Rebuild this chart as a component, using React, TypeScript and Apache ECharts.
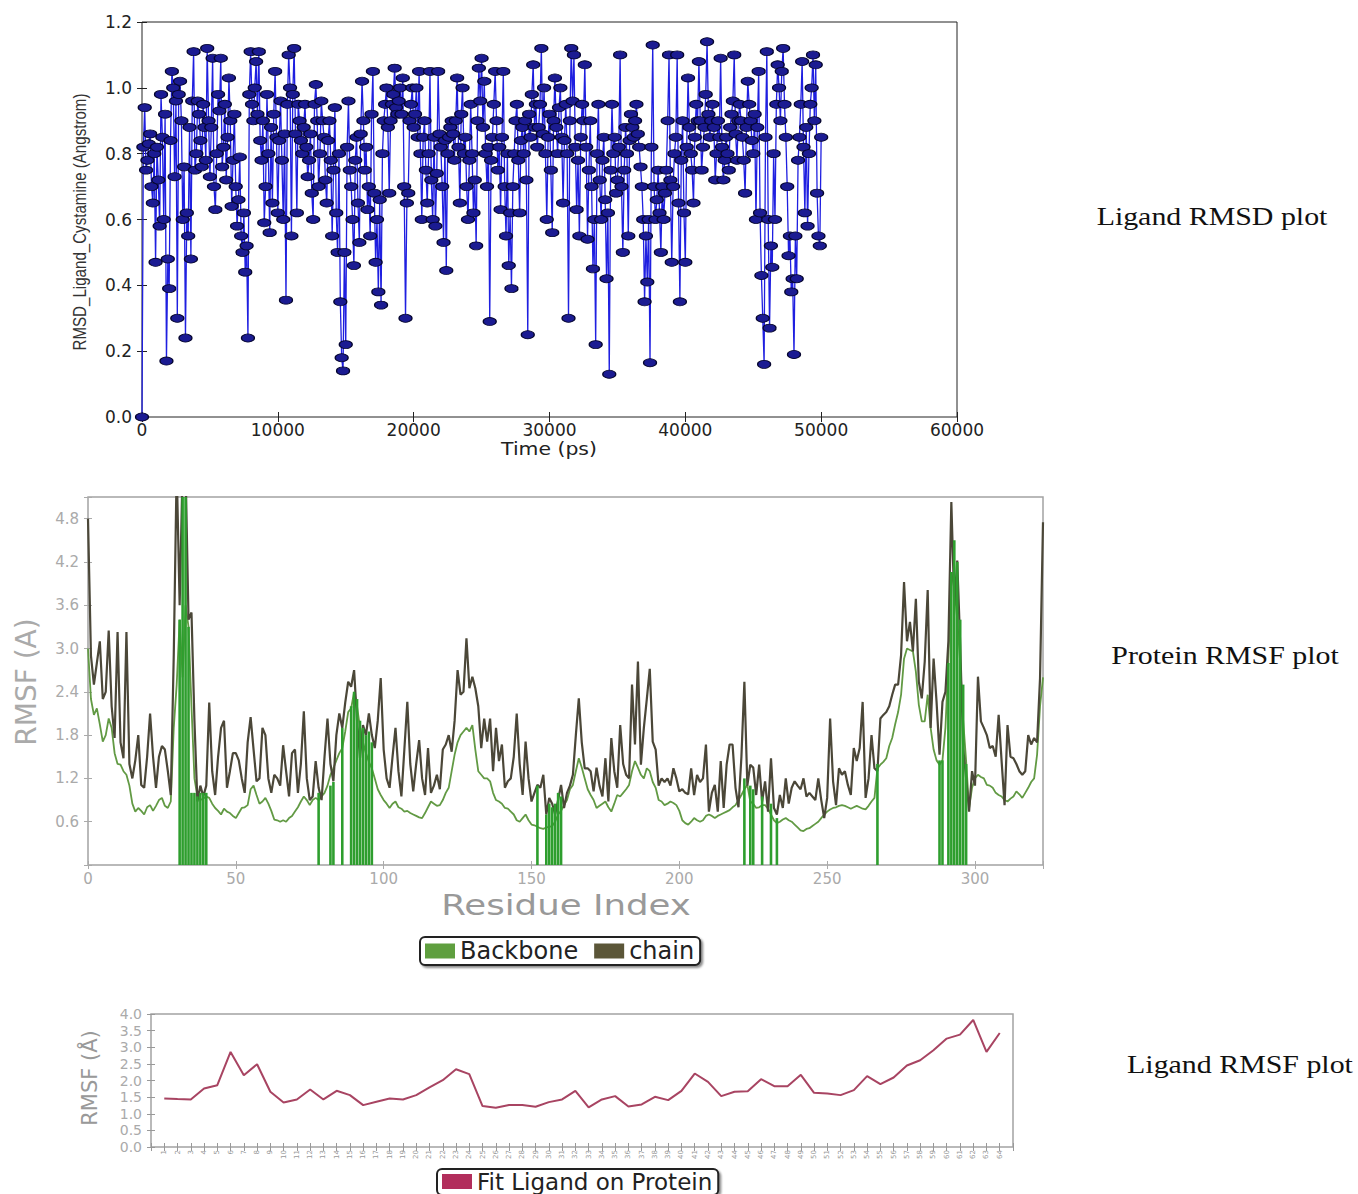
import React, { useEffect, useRef } from "react";
import * as echarts from "echarts";

// ---------- Ligand RMSD (top) ----------
const RMSD_STEP_PS = 100;
const RMSD_VALUES = [
  0.0,
  0.82, 0.94, 0.75, 0.78, 0.83, 0.86, 0.7, 0.65, 0.8, 0.47,
  0.82, 0.72, 0.58, 0.98, 0.85, 0.6, 0.92, 0.17, 0.48, 0.39,
  0.84, 1.05, 1.0, 0.73, 0.96, 0.3, 0.98, 1.02, 0.9, 0.6,
  0.76, 0.24, 0.62, 0.55, 0.88, 0.48, 0.96, 1.11, 0.75, 0.8,
  0.96, 0.92, 0.84, 0.76, 0.95, 0.88, 0.78, 1.12, 0.9, 0.73,
  0.88, 1.09, 0.7, 0.63, 0.8, 0.98, 0.93, 1.09, 0.76, 0.82,
  0.95, 0.72, 0.85, 1.03, 0.9, 0.64, 0.78, 0.92, 0.7, 0.58,
  0.66, 0.79, 0.55, 0.5, 0.62, 0.44, 0.52, 0.24, 0.98, 1.11,
  0.95, 0.9, 1.0, 1.08, 0.92, 1.11, 0.84, 0.78, 0.9, 0.59,
  0.7, 0.98, 0.8, 0.56, 0.88, 0.65, 0.92, 1.05, 0.85, 0.62,
  0.84, 0.96, 0.78, 0.6, 0.86, 0.355, 0.95, 1.1, 1.0, 0.55,
  0.98, 1.12, 0.86, 0.62, 0.95, 0.9, 0.84, 0.8, 0.88, 0.95,
  0.82, 0.73, 0.78, 0.86, 0.68, 0.6, 0.95, 1.01, 0.9, 0.7,
  0.8, 0.96, 0.9, 0.85, 0.72, 0.65, 0.84, 0.9, 0.78, 0.55,
  0.75, 0.94, 0.62, 0.5, 0.8, 0.35, 0.18, 0.14, 0.5, 0.22,
  0.82, 0.96, 0.75, 0.7, 0.6, 0.46, 0.78, 0.85, 0.65, 0.53,
  0.86, 1.02, 0.9, 0.75, 0.82, 0.63, 0.7, 0.55, 0.92, 1.05,
  0.68, 0.47, 0.6, 0.38, 0.66, 0.34, 0.8, 0.9, 0.95, 1.0,
  0.88, 0.68, 0.9, 0.95, 0.98, 1.06, 0.94, 0.92, 0.96, 1.0,
  0.92, 1.03, 0.7, 0.3, 0.65, 0.68, 0.9, 0.95, 1.0, 0.88,
  0.92, 1.0, 0.85, 1.05, 0.8, 0.6, 0.85, 0.9, 0.75, 0.65,
  0.8, 1.05, 0.72, 0.6, 0.85, 0.58, 0.74, 1.05, 0.86, 0.82,
  0.7, 0.53, 0.84, 0.445, 0.8, 0.85, 0.88, 0.9, 0.86, 0.78,
  0.9, 1.03, 0.82, 0.65, 0.92, 1.0, 0.8, 0.85, 0.7, 0.6,
  0.78, 0.95, 0.8, 0.62, 0.72, 0.52, 0.9, 1.06, 0.96, 1.09,
  0.88, 1.02, 0.8, 0.7, 0.82, 0.29, 0.78, 0.85, 0.95, 1.05,
  0.9, 0.75, 0.82, 0.63, 0.85, 1.05, 0.7, 0.55, 0.8, 0.46,
  0.62, 0.39, 0.7, 0.8, 0.9, 0.95, 0.78, 0.62, 0.84, 0.88,
  0.8, 0.9, 0.72, 0.25, 0.92, 0.85, 0.98, 1.07, 0.88, 0.95,
  0.82, 0.88, 0.95, 1.12, 0.86, 1.0, 0.8, 0.6, 0.85, 0.92,
  0.75, 0.56, 0.9, 1.03, 0.88, 0.8, 0.94, 1.0, 0.85, 0.65,
  0.84, 0.95, 0.8, 0.3, 0.9, 1.12, 0.96, 1.1, 0.82, 0.63,
  0.78, 0.55, 0.85, 0.95, 0.9, 1.07, 0.82, 0.54, 0.75, 0.9,
  0.7, 0.45, 0.6, 0.22, 0.8, 0.95, 0.72, 0.6, 0.78, 0.85,
  0.66, 0.42, 0.62, 0.13, 0.75, 0.95, 0.8, 0.85, 0.68, 0.72,
  0.82, 1.1, 0.7, 0.5, 0.75, 0.88, 0.8, 0.55, 0.84, 0.92,
  0.88, 0.85, 0.9, 0.95, 0.86, 0.82, 0.76, 0.7, 0.6, 0.35,
  0.55, 0.41, 0.6, 0.165, 0.82, 1.13, 0.7, 0.6, 0.66, 0.75,
  0.62, 0.5, 0.7, 0.6, 0.68, 0.75, 0.9, 1.1, 0.72, 0.47,
  0.7, 0.8, 0.85, 1.1, 0.65, 0.35, 0.78, 0.9, 0.62, 0.47,
  0.82, 1.03, 0.88, 0.8, 0.75, 0.65, 0.85, 0.95, 0.9, 1.08,
  0.9, 0.75, 0.82, 0.88, 0.98, 1.14, 0.92, 0.85, 0.9, 0.95,
  0.88, 0.72, 0.8, 0.9, 0.85, 1.09, 0.82, 0.72, 0.78, 0.85,
  0.8, 0.75, 0.88, 0.92, 0.96, 1.1, 0.86, 0.78, 0.9, 0.95,
  0.9, 0.85, 0.78, 0.68, 0.88, 1.02, 0.95, 0.9, 0.84, 0.8,
  0.92, 0.6, 0.88, 1.05, 0.62, 0.43, 0.3, 0.16, 0.85, 1.11,
  0.6, 0.27, 0.52, 0.455, 0.8, 0.6, 0.95, 1.07, 1.0, 0.9,
  1.05, 1.12, 0.95, 0.85, 0.7, 0.49, 0.55, 0.38, 0.42, 0.19,
  0.55, 0.42, 0.78, 0.85, 0.95, 1.08, 0.82, 0.62, 0.88, 0.58,
  0.8, 0.95, 1.0, 1.1, 0.9, 1.07, 0.68, 0.55, 0.52, 0.85,
];

// ---------- Protein RMSF (middle), residue index 0..323 ----------
const CHAIN_RMSF = [
  4.8, 2.9, 2.5, 2.8, 3.1, 2.3, 2.4, 3.25, 2.2, 1.76,
  3.23, 1.7, 1.48, 3.23, 1.4, 1.2, 1.45, 1.8, 1.11, 1.07,
  1.5, 2.1, 1.5, 1.07, 1.5, 1.65, 1.6, 1.3, 0.97, 2.9,
  5.5, 3.6, 5.5, 5.5, 3.4, 3.5, 2.0, 0.88, 1.1, 0.95,
  1.1, 2.25, 1.3, 0.97, 1.5, 1.9, 2.0, 1.07, 1.3, 1.55,
  1.55, 1.45, 1.2, 1.0, 1.7, 2.05, 1.6, 1.16, 1.2, 1.9,
  1.8, 1.2, 1.0, 1.25, 1.2, 1.1, 1.66, 1.3, 0.95, 1.55,
  1.6, 1.0, 1.4, 2.13, 1.2, 0.9, 0.95, 1.44, 1.07, 0.9,
  1.5, 2.03, 1.4, 1.16, 1.8, 2.1, 1.9, 2.25, 2.54, 2.47,
  2.7, 2.0, 1.48, 1.94, 1.8, 2.1, 1.8, 1.62, 2.0, 2.59,
  1.6, 1.2, 1.07, 1.5, 1.9, 1.3, 0.95, 1.6, 2.26, 1.4,
  1.02, 1.4, 1.73, 1.2, 0.97, 1.62, 1.0, 1.1, 1.25, 1.05,
  1.6, 1.67, 1.8, 1.57, 2.0, 2.7, 2.36, 2.4, 3.14, 2.45,
  2.61, 2.45, 2.2, 1.62, 2.03, 1.71, 2.03, 1.3, 1.9, 1.44,
  1.67, 1.07, 1.16, 1.2, 1.5, 2.1, 1.4, 0.97, 1.71, 1.2,
  0.88, 1.0, 1.11, 1.07, 1.25, 0.7, 0.93, 0.85, 0.7, 0.9,
  1.11, 0.79, 1.0, 1.1, 1.25, 1.8, 2.31, 1.7, 1.34, 1.34,
  1.3, 1.02, 1.35, 1.1, 0.95, 1.48, 0.88, 1.76, 1.3, 1.07,
  1.94, 1.4, 1.25, 1.2, 2.5, 1.67, 2.82, 1.39, 1.9, 2.3,
  2.72, 1.71, 1.6, 1.1, 1.2, 1.15, 1.2, 1.1, 1.34, 1.2,
  1.02, 1.05, 1.0, 0.98, 1.34, 0.97, 1.25, 1.15, 1.2, 1.67,
  0.74, 1.0, 1.11, 0.74, 1.44, 0.79, 1.39, 1.67, 1.67, 1.07,
  0.8, 1.5, 2.54, 1.1, 1.39, 1.35, 0.97, 1.39, 0.88, 1.16,
  0.74, 1.48, 0.79, 0.7, 0.97, 0.79, 1.2, 0.85, 1.07, 1.16,
  1.1, 1.05, 1.2, 0.95, 1.0, 0.95, 0.9, 1.2, 0.9, 0.65,
  0.93, 2.03, 1.16, 0.83, 1.34, 1.25, 1.3, 1.11, 0.97, 1.62,
  1.44, 1.62, 2.26, 0.93, 1.2, 1.8, 1.34, 1.3, 2.03, 2.08,
  2.12, 2.2, 2.36, 2.5, 2.5, 2.91, 3.92, 3.1, 3.37, 2.96,
  3.69, 2.54, 2.31, 2.82, 3.81, 1.9, 2.86, 2.26, 1.53, 2.26,
  2.4, 3.1, 5.03, 3.6, 4.22, 3.05, 1.62, 1.2, 0.74, 1.3,
  1.1, 2.61, 1.99, 1.9, 1.8, 1.62, 1.65, 1.5, 2.08, 1.44,
  0.83, 1.94, 1.5, 1.48, 1.4, 1.3, 1.25, 1.3, 1.8, 1.67,
  1.76, 1.7, 2.59, 4.75,
];

const BACKBONE_RMSF = [
  3.0, 2.3, 2.08, 2.17, 1.95, 1.71, 1.8, 2.03, 1.9, 1.55,
  1.4, 1.39, 1.3, 1.25, 1.1, 0.85, 0.74, 0.79, 0.75, 0.7,
  0.8, 0.83, 0.75, 0.82, 0.9, 0.93, 0.82, 0.79, 0.88, 1.9,
  2.5, 3.4, 2.6, 3.6, 3.3, 2.2, 1.2, 0.95, 0.9, 0.92,
  0.95, 0.93, 0.85, 0.79, 0.75, 0.7, 0.78, 0.74, 0.72, 0.68,
  0.65, 0.72, 0.79, 0.8, 0.83, 1.05, 1.1, 0.97, 0.85, 0.88,
  0.93, 0.85, 0.75, 0.63, 0.62, 0.6, 0.62, 0.6, 0.65, 0.68,
  0.74, 0.8, 0.88, 0.95, 0.9, 0.83, 0.9, 0.93, 0.9, 0.95,
  1.0, 1.1, 1.25, 1.34, 1.45, 1.55, 1.62, 1.85, 2.12, 2.17,
  2.4, 2.2, 1.9, 1.7, 1.55, 1.43, 1.34, 1.2, 1.05, 0.97,
  0.9, 0.85, 0.79, 0.85, 0.88, 0.8, 0.78, 0.74, 0.75, 0.72,
  0.7, 0.68, 0.66, 0.65, 0.72, 0.8, 0.88, 0.85, 0.82, 0.83,
  0.9, 1.0, 1.07, 1.3, 1.53, 1.7, 1.8, 1.85, 1.9, 1.85,
  1.94, 1.6, 1.3, 1.25, 1.2, 1.2, 1.16, 1.0, 0.9, 0.88,
  0.85, 0.79, 0.78, 0.74, 0.7, 0.62, 0.6, 0.65, 0.7, 0.62,
  0.56, 0.55, 0.53, 0.51, 0.5, 0.52, 0.53, 0.54, 0.6, 0.7,
  0.75, 0.83, 0.9, 1.05, 1.11, 1.3, 1.48, 1.35, 1.2, 1.05,
  0.97, 0.9, 0.79, 0.82, 0.85, 0.88, 0.8, 0.74, 0.85, 0.97,
  0.95, 1.0, 1.05, 1.11, 1.3, 1.44, 1.35, 1.25, 1.2, 1.34,
  1.3, 1.15, 1.07, 0.9, 0.88, 0.83, 0.85, 0.88, 0.86, 0.83,
  0.75, 0.62, 0.58, 0.56, 0.6, 0.65, 0.62, 0.6, 0.62, 0.68,
  0.7, 0.68, 0.65, 0.68, 0.7, 0.72, 0.74, 0.76, 0.8, 0.83,
  0.9, 0.97, 1.05, 1.11, 0.88, 0.85, 0.79, 0.8, 0.83, 0.83,
  0.78, 0.7, 0.62, 0.58, 0.6, 0.63, 0.65, 0.62, 0.6, 0.56,
  0.52, 0.48, 0.47, 0.5, 0.51, 0.54, 0.57, 0.6, 0.65, 0.7,
  0.74, 0.77, 0.79, 0.8, 0.82, 0.83, 0.82, 0.8, 0.78, 0.8,
  0.82, 0.8, 0.78, 0.77, 0.82, 0.88, 0.93, 1.34, 1.39, 1.43,
  1.48, 1.65, 1.76, 1.95, 2.12, 2.36, 2.86, 3.0, 2.98, 2.96,
  2.68, 2.22, 1.99, 1.99, 2.36, 1.9, 1.6, 1.45, 1.39, 1.45,
  1.9, 2.82, 4.06, 3.83, 3.4, 2.8, 2.0, 1.44, 0.79, 1.07,
  1.2, 1.25, 1.22, 1.2, 1.11, 1.1, 1.07, 1.0, 0.97, 0.95,
  0.9, 0.88, 0.92, 0.95, 1.02, 0.98, 0.93, 1.0, 1.07, 1.15,
  1.2, 1.53, 2.2, 2.6,
];

// residues drawn as green vertical bars, with their heights
const CONTACT_RESIDUES = [
  31, 32, 33, 34, 35, 36, 37, 38, 39, 40,
  78, 82, 83, 86, 89, 90, 91, 92, 93, 94, 95, 96,
  152, 155, 156, 157, 158, 159, 160,
  222, 224, 225, 228, 231, 233,
  267, 288, 289, 291, 292, 293, 294, 295, 296, 297,
];
const CONTACT_HEIGHTS = [
  3.4, 5.5, 5.5, 3.3, 1.0, 1.0, 0.95, 1.0, 1.0, 1.0,
  1.0, 1.1, 1.15, 1.9, 2.2, 2.4, 2.3, 2.0, 1.9, 1.8, 1.85, 1.7,
  1.1, 0.7, 0.85, 0.8, 0.85, 1.0, 0.95,
  1.2, 1.1, 1.05, 0.95, 0.85, 0.65,
  1.4, 1.45, 1.45, 2.8, 4.06, 4.5, 4.2, 3.4, 2.5, 1.4,
];

// ---------- Ligand RMSF (bottom), atoms 1..64 ----------
const LIGAND_RMSF = [
  1.46, 1.44, 1.43, 1.76, 1.86, 2.86, 2.16, 2.49, 1.66, 1.34,
  1.43, 1.73, 1.43, 1.69, 1.56, 1.26, 1.36, 1.46, 1.43, 1.56,
  1.79, 2.01, 2.34, 2.19, 1.23, 1.18, 1.26, 1.26, 1.21, 1.35,
  1.43, 1.69, 1.19, 1.43, 1.53, 1.22, 1.28, 1.51, 1.41, 1.69,
  2.21, 1.96, 1.53, 1.66, 1.68, 2.04, 1.83, 1.83, 2.17, 1.63,
  1.61, 1.56, 1.71, 2.13, 1.89, 2.09, 2.45, 2.61, 2.91, 3.26,
  3.38, 3.82, 2.86, 3.43,
];

const SANS = "'DejaVu Sans', sans-serif";
const LIB_SANS = "'Liberation Sans', sans-serif";
const SERIF = "'Liberation Serif', 'DejaVu Serif', serif";

function frameAxis(
  gridIndex: number,
  position: string,
  min: number,
  max: number,
  interval: number,
  tickColor: string,
  tickLen: number,
  label: any
) {
  return {
    gridIndex,
    type: "value",
    position,
    min,
    max,
    interval,
    axisLine: { show: false },
    axisTick: { show: true, inside: true, length: tickLen, lineStyle: { color: tickColor, width: 1 } },
    splitLine: { show: false },
    axisLabel: label ? label : { show: false },
  };
}

function buildOption() {
  const topLabel = {
    margin: 4,
    fontSize: 17,
    color: "#222",
    fontFamily: SANS,
    formatter: (v: number) => String(v),
  };
  const midXLabel = {
    margin: 6,
    fontSize: 15,
    color: "#aaa",
    fontFamily: SANS,
    formatter: (v: number) => (v % 50 === 0 ? String(v) : ""),
  };
  const botXLabel = {
    margin: 3,
    fontSize: 7,
    rotate: 90,
    color: "#999",
    fontFamily: SANS,
    formatter: (v: number) => (v >= 1 && v <= 64 ? String(v) : ""),
  };

  const xAxis = [
    frameAxis(0, "bottom", 0, 60000, 10000, "#222", 5, topLabel),
    frameAxis(0, "top", 0, 60000, 10000, "#222", 5, null),
    frameAxis(1, "bottom", 0, 323, 50, "#aaa", 4, midXLabel),
    frameAxis(1, "top", 0, 323, 50, "#aaa", 4, null),
    frameAxis(2, "bottom", 0, 65, 1, "#999", 4, botXLabel),
    frameAxis(2, "top", 0, 65, 1, "#999", 4, null),
  ];

  const yAxis = [
    frameAxis(0, "left", 0, 1.2, 0.2, "#222", 5, {
      margin: 10,
      fontSize: 17,
      color: "#222",
      fontFamily: SANS,
      formatter: (v: number) => v.toFixed(1),
    }),
    frameAxis(0, "right", 0, 1.2, 0.2, "#222", 5, null),
    frameAxis(1, "left", 0, 5.1, 0.6, "#aaa", 4, {
      margin: 9,
      fontSize: 15,
      color: "#aaa",
      fontFamily: SANS,
      formatter: (v: number) => (v > 0.01 && v < 5.0 ? v.toFixed(1) : ""),
    }),
    frameAxis(1, "right", 0, 5.1, 0.6, "#aaa", 4, null),
    frameAxis(2, "left", 0, 4, 0.5, "#999", 4, {
      margin: 9,
      fontSize: 14,
      color: "#aaa",
      fontFamily: SANS,
      formatter: (v: number) => v.toFixed(1),
    }),
    frameAxis(2, "right", 0, 4, 0.5, "#999", 4, null),
  ];

  const legendBox = {
    icon: "rect",
    itemWidth: 30,
    itemHeight: 15,
    itemGap: 16,
    selectedMode: false,
    borderColor: "#222",
    borderWidth: 2,
    borderRadius: 5,
    padding: [2, 6, 2, 5],
    backgroundColor: "#fff",
    shadowColor: "rgba(0,0,0,0.45)",
    shadowBlur: 2,
    shadowOffsetX: 2,
    shadowOffsetY: 2,
  };

  const text = (t: string, x: number, y: number, size: number, fill: string, family: string, extra: any = {}) => ({
    type: "text",
    x,
    y,
    ...extra,
    style: { text: t, fontSize: size, fill, fontFamily: family, align: "center", verticalAlign: "middle" },
  });

  return {
    animation: false,
    backgroundColor: "#ffffff",
    grid: [
      { left: 142, top: 22, width: 815, height: 395, show: true, borderColor: "#222", borderWidth: 1, backgroundColor: "transparent" },
      { left: 88, top: 497, width: 955, height: 368, show: true, borderColor: "#a3a3a3", borderWidth: 1.5, backgroundColor: "transparent" },
      { left: 151, top: 1014, width: 862, height: 133, show: true, borderColor: "#a3a3a3", borderWidth: 1.5, backgroundColor: "transparent" },
    ],
    xAxis,
    yAxis,
    legend: [
      {
        ...legendBox,
        left: 420,
        top: 937,
        textStyle: { fontSize: 24, color: "#222", fontFamily: SANS },
        data: [
          { name: "Backbone", itemStyle: { color: "#5f9f3f" } },
          { name: "chain", itemStyle: { color: "#5b5638" } },
        ],
      },
      {
        ...legendBox,
        left: 437,
        top: 1169,
        padding: [1, 6, 2, 5],
        textStyle: { fontSize: 23, color: "#222", fontFamily: SANS },
        data: [{ name: "Fit Ligand on Protein", itemStyle: { color: "#b22e5c" } }],
      },
    ],
    series: [
      {
        name: "RMSD_Ligand_Cystamine",
        type: "line",
        xAxisIndex: 0,
        yAxisIndex: 0,
        data: RMSD_VALUES.map((v, i) => [i * RMSD_STEP_PS, v]),
        symbol: "circle",
        symbolSize: [13, 8],
        showAllSymbol: true,
        lineStyle: { color: "#1f1fe0", width: 1.3 },
        itemStyle: { color: "#1b1b92", borderColor: "#05052e", borderWidth: 1 },
        z: 2,
      },
      {
        name: "Backbone",
        type: "line",
        xAxisIndex: 2,
        yAxisIndex: 2,
        data: BACKBONE_RMSF.map((v, i) => [i, v]),
        showSymbol: false,
        color: "#5f9f3f",
        lineStyle: { color: "#629a44", width: 1.8 },
        z: 2,
      },
      {
        name: "chain",
        type: "line",
        xAxisIndex: 2,
        yAxisIndex: 2,
        data: CHAIN_RMSF.map((v, i) => [i, v]),
        showSymbol: false,
        color: "#5b5638",
        lineStyle: { color: "#4b4738", width: 2.2 },
        z: 3,
      },
      {
        name: "contacts",
        type: "bar",
        xAxisIndex: 2,
        yAxisIndex: 2,
        data: CONTACT_RESIDUES.map((r, i) => [r, CONTACT_HEIGHTS[i]]),
        barWidth: 2.6,
        itemStyle: { color: "#2e9e2e" },
        z: 4,
      },
      {
        name: "Fit Ligand on Protein",
        type: "line",
        xAxisIndex: 4,
        yAxisIndex: 4,
        data: LIGAND_RMSF.map((v, i) => [i + 1, v]),
        showSymbol: false,
        color: "#b22e5c",
        lineStyle: { color: "#a84462", width: 2 },
        z: 2,
      },
    ],
    graphic: [
      text("RMSD_Ligand_Cystamine (Angstrom)", 80, 222, 18, "#333", LIB_SANS, { rotation: Math.PI / 2, scaleX: 0.84 }),
      text("Time (ps)", 549, 449, 17, "#222", SANS, { scaleX: 1.2 }),
      text("RMSF (A)", 26, 682, 28, "#aaa", SANS, { rotation: Math.PI / 2 }),
      text("Residue Index", 566, 905, 28, "#999", SANS, { scaleX: 1.27 }),
      text("RMSF (Å)", 90, 1078, 21, "#999", SANS, { rotation: Math.PI / 2 }),
      text("Ligand RMSD plot", 1212, 216, 26, "#111", SERIF, { scaleX: 1.15 }),
      text("Protein RMSF plot", 1225, 655, 26, "#111", SERIF, { scaleX: 1.15 }),
      text("Ligand RMSF plot", 1240, 1064, 26, "#111", SERIF, { scaleX: 1.15 }),
    ],
  };
}

export default function App() {
  const ref = useRef<HTMLDivElement>(null);
  useEffect(() => {
    if (!ref.current) return;
    const chart = echarts.init(ref.current, undefined, { renderer: "svg" });
    chart.setOption(buildOption() as any);
    return () => {
      chart.dispose();
    };
  }, []);
  return (
    <div
      ref={ref}
      style={{ position: "absolute", left: 0, top: 0, width: 1358, height: 1194, background: "#fff" }}
    />
  );
}
